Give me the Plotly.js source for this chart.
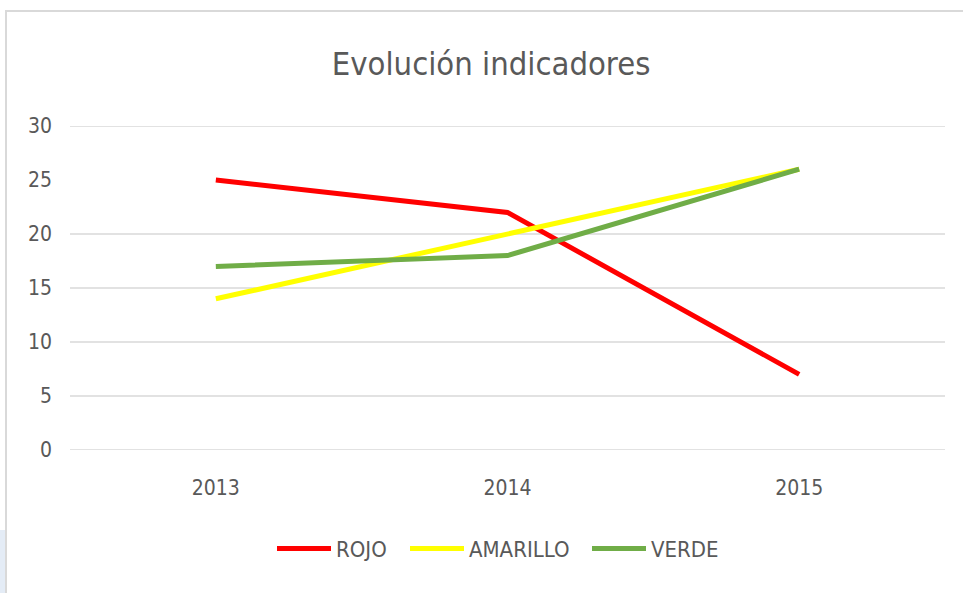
<!DOCTYPE html>
<html>
<head>
<meta charset="utf-8">
<script src="https://cdn.plot.ly/plotly-3.0.1.min.js"></script>
<style>
  html, body { margin: 0; padding: 0; background: #ffffff; }
  #wrap { position: relative; width: 963px; height: 593px; overflow: hidden; }
  #frame { position: absolute; left: 5px; top: 10px; width: 970px; height: 600px;
           border-left: 2px solid #d9d9d9; border-top: 2px solid #d9d9d9; }
  #strip { position: absolute; left: 0; top: 530px; width: 5px; height: 63px; background: #e4ecf6; }
  #chart { position: absolute; left: 0; top: 0; width: 963px; height: 593px; }
</style>
</head>
<body>
<div id="wrap">
  <div id="strip"></div>
  <div id="frame"></div>
  <div id="chart"></div>
</div>
<script>
const years = ['2013', '2014', '2015'];
const rojo = [25, 22, 7];
const amarillo = [14, 20, 26];
const verde = [17, 18, 26];
const seriesNames = ['ROJO', 'AMARILLO', 'VERDE'];
const yTicks = [0, 5, 10, 15, 20, 25, 30];
const gridVals = [0, 5, 10, 15, 20, 30];

const FONT = '"DejaVu Sans Condensed", "Liberation Sans Narrow", "Open Sans", sans-serif';
const TXT = '#595959';
const colors = ['#FF0000', '#FFFF00', '#70AD47'];
const legendIds = ['legend', 'legend2', 'legend3'];
const legendX = [277, 410, 592];   // pixel left edges of legend samples

const values = [rojo, amarillo, verde];
const traces = values.map((y, i) => ({
  x: years, y: y, name: seriesNames[i], type: 'scatter', mode: 'lines',
  line: { color: colors[i], width: 5 }, legend: legendIds[i]
}));

const shapes = gridVals.map(v => ({
  type: 'line', xref: 'paper', yref: 'y', x0: 0, x1: 1, y0: v, y1: v,
  line: { color: '#d9d9d9', width: 1.5 }, layer: 'below'
}));

const L = 70, PW = 875;
const mkLegend = (px) => ({
  orientation: 'h', x: (px - L - 5) / PW, xanchor: 'left', y: -0.305, yanchor: 'middle',
  font: { family: FONT, size: 22, color: TXT }, itemwidth: 54, bgcolor: 'rgba(0,0,0,0)',
  borderwidth: 0
});

const layout = {
  width: 963, height: 593,
  margin: { l: L, r: 18, t: 126, b: 143 },
  paper_bgcolor: 'rgba(0,0,0,0)', plot_bgcolor: 'rgba(0,0,0,0)',
  font: { family: FONT, color: TXT },
  title: { text: 'Evolución indicadores', x: 0.51, xanchor: 'center', y: 0.893, yanchor: 'middle',
           font: { family: FONT, size: 32.5, color: TXT } },
  xaxis: { type: 'category', range: [-0.5, 2.5], showgrid: false, zeroline: false, showline: false,
           ticks: '', tickfont: { family: FONT, size: 21, color: TXT }, ticklabelstandoff: 23 },
  yaxis: { range: [0, 30], tickvals: yTicks, ticktext: yTicks.map(String), showgrid: false,
           zeroline: false, showline: false, ticks: '',
           tickfont: { family: FONT, size: 21, color: TXT }, ticklabelstandoff: 17 },
  shapes: shapes,
  showlegend: true,
  legend: mkLegend(legendX[0]),
  legend2: mkLegend(legendX[1]),
  legend3: mkLegend(legendX[2])
};

Plotly.newPlot('chart', traces, layout, { displayModeBar: false, staticPlot: true });
</script>
</body>
</html>
